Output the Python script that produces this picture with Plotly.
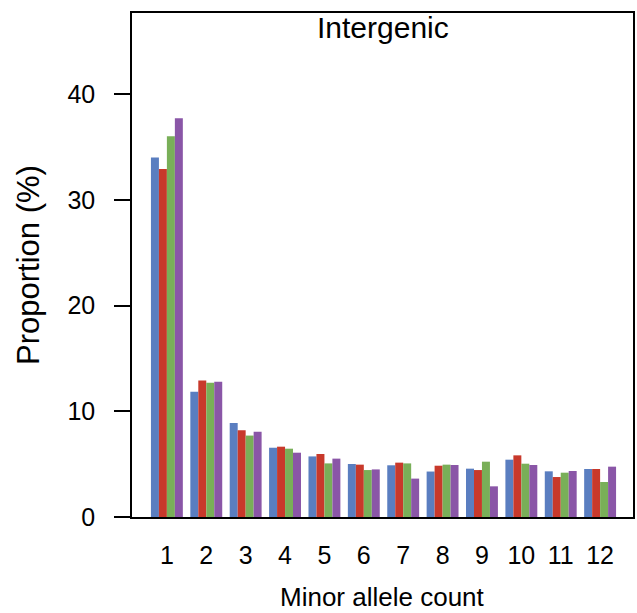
import plotly.graph_objects as go

# Minor allele count categories and per-series proportions (%)
counts = list(range(1, 13))
series_a = [34.0, 11.85, 8.9, 6.55, 5.73, 5.01, 4.89, 4.3, 4.57, 5.42, 4.32, 4.54]
series_b = [32.9, 12.9, 8.2, 6.65, 5.96, 4.95, 5.14, 4.85, 4.44, 5.83, 3.78, 4.54]
series_c = [36.0, 12.7, 7.7, 6.46, 5.07, 4.44, 5.07, 4.95, 5.23, 5.04, 4.19, 3.31]
series_d = [37.7, 12.8, 8.05, 6.08, 5.52, 4.5, 3.63, 4.92, 2.9, 4.92, 4.35, 4.76]
colors = ["#5A7EC0", "#C8392B", "#79AF58", "#8A56A7"]
y_ticks = [0, 10, 20, 30, 40]

FONT = "Liberation Sans, Arial, Helvetica, sans-serif"

fig = go.Figure()
for vals, col in zip([series_a, series_b, series_c, series_d], colors):
    fig.add_trace(go.Bar(x=counts, y=vals, marker=dict(color=col, line=dict(width=0)),
                         showlegend=False))

fig.update_layout(
    width=637, height=613,
    margin=dict(l=132, r=2, t=13, b=96),
    paper_bgcolor="white", plot_bgcolor="white",
    barmode="group", bargap=0.19, bargroupgap=0,
    font=dict(family=FONT, color="black"),
    xaxis=dict(range=[0.114, 12.835], tickmode="array", tickvals=counts,
               ticktext=[str(c) for c in counts], ticks="", showgrid=False,
               zeroline=False, showline=True, linecolor="black", linewidth=1.5,
               mirror=True, tickfont=dict(size=25), ticklabelstandoff=15),
    yaxis=dict(range=[0, 47.66], tickmode="array", tickvals=y_ticks,
               ticks="outside", ticklen=16, tickwidth=1.5, tickcolor="black",
               showgrid=False, zeroline=False, showline=True, linecolor="black",
               linewidth=1.5, mirror=True, tickfont=dict(size=25),
               ticklabelstandoff=14),
    annotations=[
        dict(text="Intergenic", x=0.5, y=1, xref="paper", yref="paper",
             xanchor="center", yanchor="top", yshift=4, showarrow=False,
             font=dict(size=30)),
        dict(text="Minor allele count", x=0.5, y=0, xref="paper", yref="paper",
             xanchor="center", yanchor="middle", yshift=-80, showarrow=False,
             font=dict(size=26)),
        dict(text="Proportion (%)", x=0, y=0.5, xref="paper", yref="paper",
             xanchor="center", yanchor="middle", xshift=-104, textangle=-90,
             showarrow=False, font=dict(size=31)),
    ],
)

fig.write_html("out.html")
